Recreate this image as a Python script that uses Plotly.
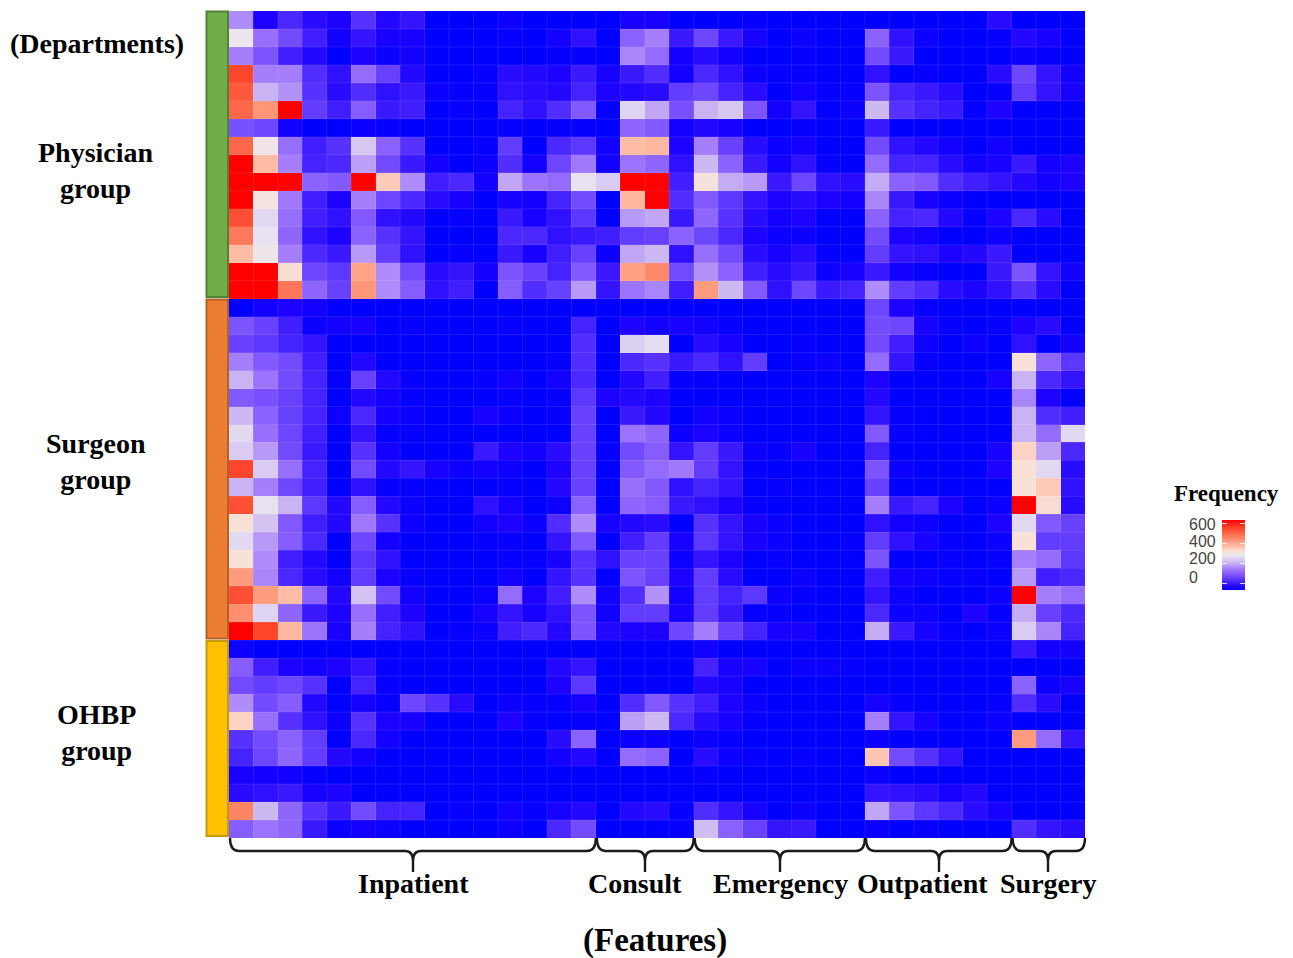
import numpy as np
import plotly.graph_objects as go

W, H = 1293, 958

# Colour level of each cell (0 = pure blue, 50 = pale mid, 100 = red)
physician_rows = [
 [33,5,13,7,5,15,6,9,0,0,0,2,0,0,0,0,4,4,0,0,0,1,0,0,0,0,0,0,0,0,0,7,0,0,0],
 [50,28,20,11,3,9,4,4,0,0,0,1,0,3,8,0,25,31,10,19,10,4,0,2,0,0,25,8,2,0,0,1,6,4,0],
 [31,22,11,6,0,5,2,3,0,0,0,0,0,1,1,0,32,27,3,7,3,0,0,1,0,0,20,10,0,0,0,0,2,1,0],
 [88,31,31,14,8,27,18,6,0,0,1,7,6,5,10,4,10,14,3,13,8,2,1,1,0,0,8,0,1,0,0,7,19,9,3],
 [84,39,34,15,7,14,8,10,2,1,1,8,7,6,12,5,6,7,17,19,12,7,0,3,1,1,22,12,10,7,0,1,17,9,4],
 [81,71,100,17,11,24,10,11,0,1,0,12,8,14,23,1,46,37,21,39,43,22,3,9,0,2,40,15,12,10,1,5,0,0,0],
 [21,19,3,0,0,2,1,0,0,0,0,1,0,1,1,0,26,23,3,6,4,0,0,1,0,0,10,0,0,0,0,0,0,0,0],
 [81,52,28,11,15,43,25,15,0,0,1,17,0,13,16,3,63,64,5,31,18,7,2,3,0,0,20,8,6,3,0,3,0,0,0],
 [100,63,31,12,13,36,20,10,3,0,2,14,3,19,30,3,29,26,8,40,25,10,3,8,1,0,27,12,12,7,3,4,10,3,5],
 [100,100,100,25,23,100,60,33,11,13,3,37,29,27,49,44,100,100,11,54,38,35,10,19,8,7,38,25,23,14,11,9,6,3,5],
 [100,53,30,11,5,31,19,13,7,4,0,4,3,12,20,0,64,100,14,23,16,9,5,7,5,3,32,10,4,2,0,0,0,0,0],
 [86,47,28,11,8,23,8,6,0,1,0,10,4,8,16,0,35,37,10,26,15,7,3,5,0,0,25,12,13,6,1,5,13,7,0],
 [77,49,26,8,5,25,15,9,0,0,0,13,13,8,10,11,17,18,25,19,13,5,2,2,0,0,20,5,3,0,0,2,0,0,0],
 [63,51,31,13,10,35,17,8,0,1,0,10,4,11,18,2,37,40,8,28,20,7,4,7,1,0,17,9,8,5,6,10,0,0,0],
 [100,100,56,19,16,68,33,20,7,9,3,22,18,12,23,10,69,74,20,34,25,11,7,10,2,4,10,3,1,0,0,10,22,9,3],
 [100,100,78,26,18,71,33,24,8,11,0,24,14,18,35,9,29,32,11,70,40,23,8,19,10,12,33,17,14,7,5,8,15,7,0],
]
surgeon_rows = [
 [0,3,5,3,0,0,0,0,0,0,0,0,0,0,0,0,0,0,0,0,0,0,0,0,0,0,19,5,1,0,0,0,0,0,0],
 [22,18,11,2,3,4,0,1,0,0,0,1,0,0,12,0,5,3,4,3,1,0,0,0,0,0,20,19,4,1,0,1,5,7,0],
 [18,16,12,9,0,0,0,0,0,0,0,0,0,0,14,0,45,48,0,7,4,0,0,1,0,0,20,11,2,0,2,0,8,0,3],
 [31,23,20,11,0,6,0,0,0,0,0,0,0,1,14,0,13,15,10,13,8,17,0,1,2,0,27,9,1,0,0,0,55,26,16],
 [39,29,20,12,1,18,6,1,0,0,1,3,0,3,13,0,6,11,1,1,0,0,0,0,0,0,5,0,0,0,0,4,39,13,9],
 [23,21,18,12,0,6,3,1,0,0,0,1,0,1,16,5,6,5,0,0,0,0,0,0,0,0,6,0,0,0,0,0,32,5,0],
 [40,25,18,12,2,13,3,2,0,0,4,2,0,1,18,0,10,6,0,3,2,0,0,0,0,0,9,1,0,0,0,0,39,14,11],
 [47,28,19,11,0,9,1,1,0,0,0,0,0,0,18,0,29,26,2,5,2,0,0,0,0,0,23,1,0,0,0,0,39,27,47],
 [44,35,20,10,0,15,3,0,0,0,10,5,3,7,18,1,20,24,9,17,10,2,1,4,0,0,12,0,0,0,0,4,58,36,13],
 [88,44,28,12,0,20,6,9,4,2,3,2,0,5,18,0,23,27,30,17,9,1,0,0,0,0,22,2,0,0,0,5,55,47,7],
 [39,31,19,11,0,8,1,1,0,0,0,1,0,6,18,0,28,23,8,12,9,0,1,0,0,0,18,0,0,0,0,0,55,60,8],
 [86,49,39,16,6,24,6,2,0,0,8,4,0,2,25,0,26,24,10,8,5,1,0,0,0,0,31,10,12,5,0,2,100,56,7],
 [55,42,23,11,6,30,15,2,0,0,3,5,2,14,33,4,6,7,0,15,9,4,2,0,0,0,8,3,2,0,0,5,47,23,18],
 [47,35,24,13,0,19,3,0,0,0,1,1,0,9,23,0,11,17,4,16,9,4,2,0,0,1,17,8,4,1,0,2,55,17,17],
 [55,33,11,6,0,16,8,0,0,0,0,1,1,4,15,8,18,18,2,9,5,0,1,0,0,0,22,0,0,1,0,1,31,27,16],
 [70,32,13,7,3,17,5,1,0,0,0,3,0,9,15,0,22,18,5,17,7,0,0,2,0,0,11,3,2,1,1,0,35,11,13],
 [86,70,63,25,6,42,20,3,0,0,2,27,5,11,33,3,14,34,3,17,12,16,2,1,0,0,9,2,0,0,0,2,100,31,27],
 [73,46,26,10,5,28,11,5,0,0,4,9,4,8,22,3,17,17,4,17,10,1,1,0,0,0,13,2,2,0,5,1,38,18,13],
 [100,88,64,29,4,31,12,8,0,1,2,11,13,6,22,6,5,5,19,31,18,12,4,4,0,0,38,10,4,1,0,2,44,32,12],
]
ohbp_rows = [
 [2,0,0,0,0,0,0,0,0,0,0,0,0,0,0,0,0,0,0,3,0,0,0,0,0,0,0,0,0,0,0,0,10,3,3],
 [24,11,5,3,5,9,1,0,0,0,0,0,0,6,9,0,0,0,0,12,4,4,0,2,2,1,0,0,0,0,0,0,0,0,0],
 [20,17,19,15,0,12,1,0,0,0,0,0,0,5,16,0,0,1,0,6,4,0,0,0,0,0,0,0,0,0,0,0,25,2,4],
 [33,20,24,6,0,4,1,19,15,7,0,2,1,1,4,0,14,23,15,11,5,2,0,0,0,0,4,1,0,0,0,1,14,7,0],
 [58,28,15,8,2,15,5,4,0,0,0,5,1,0,1,0,36,40,13,7,4,1,0,0,0,0,31,9,4,0,0,2,0,0,0],
 [15,20,25,17,0,13,3,0,0,0,0,0,0,7,25,0,2,2,0,2,1,0,0,0,0,0,2,0,0,0,0,0,70,27,9],
 [12,19,26,17,6,3,0,0,0,0,0,0,0,3,6,0,27,25,0,7,2,1,0,1,0,0,61,20,15,9,0,0,0,0,0],
 [4,3,3,1,0,0,0,0,0,0,0,0,0,0,0,0,0,0,0,1,0,0,0,0,0,0,2,0,0,0,0,0,0,0,0],
 [7,8,10,4,5,0,0,0,0,0,0,0,0,0,0,0,0,0,0,0,0,0,0,0,0,0,9,8,7,4,6,0,0,0,0],
 [75,40,26,15,10,20,12,12,0,1,0,3,1,4,6,0,6,7,1,14,9,4,0,2,0,0,37,22,16,13,7,4,0,0,0],
 [24,29,26,10,2,3,2,0,0,0,0,2,0,13,20,0,0,0,1,41,25,18,9,10,0,0,2,0,1,0,0,0,14,9,7],
]
feature_groups = ["Inpatient", "Consult", "Emergency", "Outpatient", "Surgery"]
feature_group_sizes = [15, 4, 7, 6, 3]
department_groups = ["Physician<br>group", "Surgeon<br>group", "OHBP<br>group"]
legend_ticks = [0, 200, 400, 600]
Z_LOW, Z_HIGH = -70, 640

rows = physician_rows + surgeon_rows + ohbp_rows
assert all(len(r) == 35 for r in rows), [i for i, r in enumerate(rows) if len(r) != 35]
assert len(rows) == 46
# levels on the legend's frequency scale
frequency = np.array(rows) / 100 * (Z_HIGH - Z_LOW) + Z_LOW

colorscale = [
 [0.00, "rgb(0,0,255)"], [0.05, "rgb(30,2,255)"], [0.10, "rgb(58,25,255)"],
 [0.20, "rgb(115,75,255)"], [0.30, "rgb(160,120,252)"], [0.40, "rgb(205,185,242)"],
 [0.50, "rgb(235,230,240)"], [0.55, "rgb(248,225,215)"], [0.63, "rgb(255,188,165)"],
 [0.70, "rgb(255,155,125)"], [0.80, "rgb(255,108,78)"], [0.90, "rgb(255,60,35)"],
 [1.00, "rgb(255,0,0)"],
]

def px(x):
    return x / W
def py(y):
    return 1 - y / H

SERIF = "Liberation Serif"
fig = go.Figure()
fig.add_trace(go.Heatmap(z=frequency, zmin=Z_LOW, zmax=Z_HIGH, colorscale=colorscale,
                         showscale=False, xaxis="x", yaxis="y",
                         hovertemplate="feature %{x}, department %{y}: %{z:.0f}<extra></extra>"))
legend_levels = np.linspace(Z_LOW, Z_HIGH, 141)
fig.add_trace(go.Heatmap(z=legend_levels.reshape(-1, 1), y=legend_levels, x=[0], zmin=Z_LOW, zmax=Z_HIGH,
                         colorscale=colorscale, showscale=False, xaxis="x2", yaxis="y2", hoverinfo="skip"))

shapes = []
# faint cell separators
for i in range(1, 35):
    shapes.append(dict(type="line", xref="x", yref="y", x0=i - .5, x1=i - .5, y0=-.5, y1=45.5,
                       line=dict(color="rgba(255,255,255,0.10)", width=1)))
for j in range(1, 46):
    shapes.append(dict(type="line", xref="x", yref="y", x0=-.5, x1=34.5, y0=j - .5, y1=j - .5,
                       line=dict(color="rgba(255,255,255,0.10)", width=1)))

# department side bars
for top, bottom, fill, edge in [(11.5, 297, "#70AD47", "#548235"),
                                (299.5, 638.5, "#ED7D31", "#B2632A"),
                                (641, 836, "#FFC000", "#C49A12")]:
    shapes.append(dict(type="rect", xref="paper", yref="paper", x0=px(206.5), x1=px(228), y0=py(bottom), y1=py(top),
                       fillcolor=fill, line=dict(color=edge, width=2)))

# feature braces
def brace(x0, x1, mid, y=851):
    def P(a, b):
        return f"{px(a):.5f},{py(b):.5f}"
    return (f"M{P(x0,838)} Q{P(x0,y)} {P(x0+9,y)} L{P(mid-8,y)} Q{P(mid,y)} {P(mid,y+10)} "
            f"L{P(mid,872)} M{P(mid,y+10)} Q{P(mid,y)} {P(mid+8,y)} L{P(x1-9,y)} Q{P(x1,y)} {P(x1,838)}")

cell_w = (1085 - 229) / 35
edges = 229 + np.cumsum([0] + feature_group_sizes) * cell_w
mids = [413, 645, 780, 939, 1048]
for k in range(5):
    shapes.append(dict(type="path", xref="paper", yref="paper", path=brace(edges[k] + 1, edges[k + 1], mids[k]),
                       line=dict(color="#1a1a1a", width=2.4)))

def label(text, x, y, size, anchor="center", family=SERIF, bold=True, color="black"):
    return dict(text=f"<b>{text}</b>" if bold else text, x=px(x), y=py(y), xref="paper", yref="paper",
                xanchor=anchor, yanchor="middle", showarrow=False,
                font=dict(family=family, size=size, color=color))

annotations = [
    label("(Departments)", 97, 44, 28),
    label(department_groups[0], 96, 170, 28),
    label(department_groups[1], 96, 462, 28),
    label(department_groups[2], 96, 732, 28),
    label(feature_groups[0], 413, 883, 28),
    label(feature_groups[1], 635, 883, 28),
    label(feature_groups[2], 780, 883, 28),
    label(feature_groups[3], 922, 883, 28),
    label(feature_groups[4], 1048, 883, 28),
    label("(Features)", 655, 940, 33),
    label("Frequency", 1226, 493, 23),
]
for tick, y in zip(legend_ticks, [577, 558, 541, 524]):
    annotations.append(label(str(tick), 1187, y, 16, anchor="left", family="Liberation Sans", bold=False, color="#444444"))

fig.update_layout(
    width=W, height=H, margin=dict(l=0, r=0, t=0, b=0, pad=0),
    paper_bgcolor="white", plot_bgcolor="white", showlegend=False,
    shapes=shapes, annotations=annotations,
    xaxis=dict(domain=[px(229), px(1085)], range=[-.5, 34.5], visible=False, fixedrange=True),
    yaxis=dict(domain=[py(838), py(11)], range=[45.5, -.5], visible=False, fixedrange=True),
    xaxis2=dict(domain=[px(1222), px(1245)], range=[-.5, .5], visible=False, anchor="y2", fixedrange=True),
    yaxis2=dict(domain=[py(590), py(520)], range=[Z_LOW, Z_HIGH], anchor="x2", fixedrange=True,
                tickmode="array", tickvals=legend_ticks, showticklabels=False, ticks="inside", ticklen=5,
                tickcolor="rgba(255,255,255,0.8)", tickwidth=1, mirror="ticks", showline=False,
                showgrid=False, zeroline=False),
)
fig.write_html("out.html", config=dict(displayModeBar=False),
               post_script="document.body.style.margin='0';")
